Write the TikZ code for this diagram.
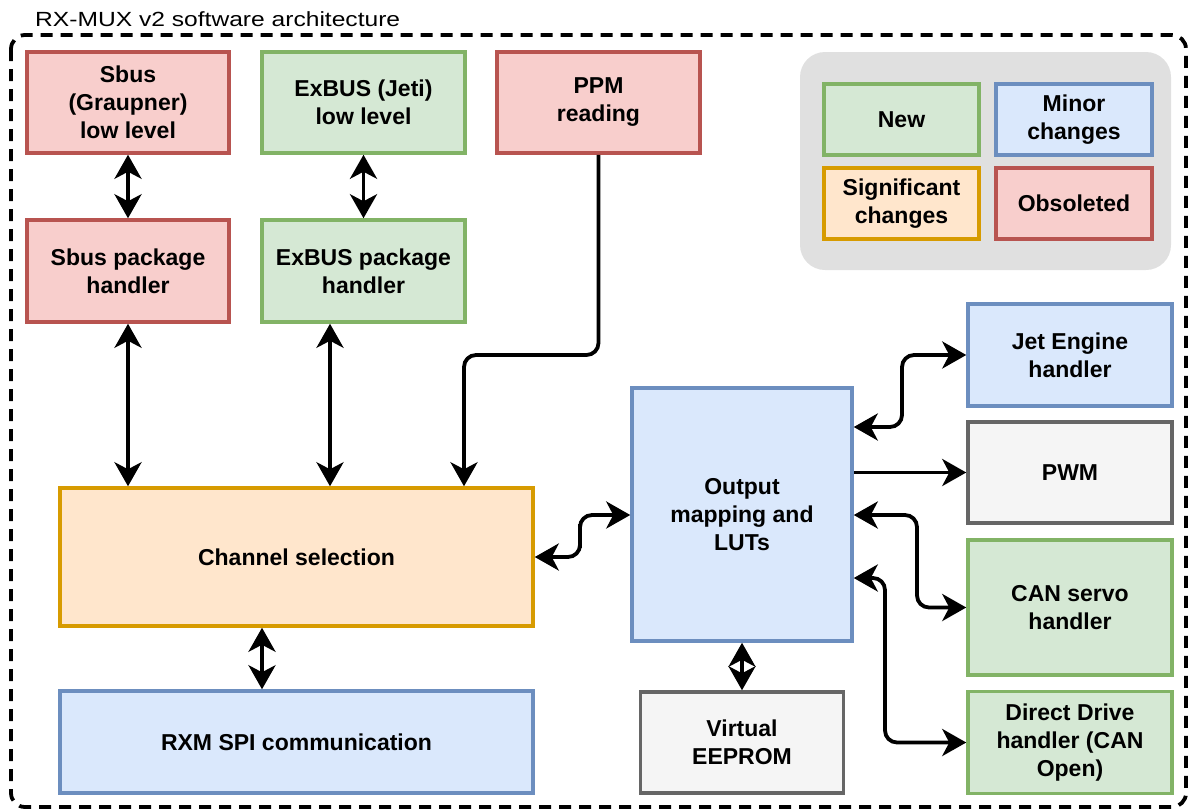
\documentclass[tikz,border=0pt]{standalone}
\usepackage{fontspec}
\setmainfont{Liberation Sans}
\newfontfamily\titlefont[FakeStretch=1.2]{Liberation Sans}
\usetikzlibrary{arrows.meta}

\definecolor{redF}{HTML}{F8CECC}\definecolor{redD}{HTML}{B85450}
\definecolor{grnF}{HTML}{D5E8D4}\definecolor{grnD}{HTML}{82B366}
\definecolor{bluF}{HTML}{DAE8FC}\definecolor{bluD}{HTML}{6C8EBF}
\definecolor{orgF}{HTML}{FFE6CC}\definecolor{orgD}{HTML}{D79B00}
\definecolor{gryF}{HTML}{F5F5F5}\definecolor{gryD}{HTML}{666666}
\definecolor{legendbg}{HTML}{E0E0E0}

\tikzset{
  box/.style={draw, line width=3.5pt, inner sep=0pt, align=center,
    font=\bfseries\fontsize{23}{28}\selectfont, text=black},
  sz/.style 2 args={minimum width=#1pt, minimum height=#2pt},
  redbox/.style={box, fill=redF, draw=redD},
  grnbox/.style={box, fill=grnF, draw=grnD},
  blubox/.style={box, fill=bluF, draw=bluD},
  orgbox/.style={box, fill=orgF, draw=orgD},
  grybox/.style={box, fill=gryF, draw=gryD},
  tip/.tip={Stealth[length=24pt, width=27pt, inset=7pt]},
  link/.style={line width=3.8pt, -tip, rounded corners=12pt},
  dlink/.style={line width=3.8pt, tip-tip, rounded corners=12pt},
  frame/.style={line width=3.8pt, dash pattern=on 12pt off 8pt, rounded corners=14pt},
}

\begin{document}
\begin{tikzpicture}[x=1pt, y=-1pt]
\useasboundingbox (0,0) rectangle (1190,809);

% outer dashed frame and its title
\draw[frame] (11,35) rectangle (1186,807);
\node[anchor=base west, inner sep=0pt, font=\titlefont\fontsize{20.5}{24}\selectfont]
  (title) at (35,26) {RX-MUX v2 software architecture};

% colour legend
\node[fill=legendbg, rounded corners=25pt, minimum width=371pt, minimum height=218pt,
  inner sep=0pt] (legend) at (985.5,161) {};
\node[grnbox, sz={155}{71}] (lnew) at (901.5,119.5) {New};
\node[blubox, sz={156}{71}] (lminor) at (1074,119.5) {Minor\\changes};
\node[orgbox, sz={155}{71}] (lsig) at (901.5,203.5) {Significant\\changes};
\node[redbox, sz={156}{71}] (lobs) at (1074,203.5) {Obsoleted};

% input side
\node[redbox, sz={202}{101}] (sbuslow) at (128,102.5) {Sbus\\(Graupner)\\low level};
\node[grnbox, sz={203}{101}] (exbuslow) at (363.5,102.5) {ExBUS (Jeti)\\low level};
\node[redbox, sz={203}{101}] (ppm) at (598.5,102.5) {PPM\\reading};
\node[redbox, sz={202}{102}] (sbuspkg) at (128,271) {Sbus package\\handler};
\node[grnbox, sz={203}{102}] (exbuspkg) at (363.5,271) {ExBUS package\\handler};

% core
\node[orgbox, sz={473}{138}] (chan) at (296.5,557) {Channel selection};
\node[blubox, sz={473}{102}] (rxm) at (296.5,742) {RXM SPI communication};
\node[blubox, sz={220}{253}] (out) at (742,514.5) {Output\\mapping and\\LUTs};
\node[grybox, sz={203}{101}] (eeprom) at (742,742.5) {Virtual\\EEPROM};

% output side
\node[blubox, sz={204}{102}] (jet) at (1070,355) {Jet Engine\\handler};
\node[grybox, sz={204}{101}] (pwm) at (1070,472.5) {PWM};
\node[grnbox, sz={204}{135}] (can) at (1070,607.5) {CAN servo\\handler};
\node[grnbox, sz={204}{102}] (dd) at (1070,742.5) {Direct Drive\\handler (CAN\\Open)};

% connectors
\draw[dlink] (sbuslow.south) -- (sbuspkg.north);
\draw[dlink] (exbuslow.south) -- (exbuspkg.north);
\draw[dlink] (sbuspkg.south) -- (sbuspkg.south |- chan.north);
\draw[dlink] (exbuspkg.south -| 330,0) -- (330,0 |- chan.north);
\draw[link] (ppm.south) |- (530,355) -| (464,420) -- (464,0 |- chan.north);
\draw[dlink] (chan.east) -| (580,536) |- (out.west |- 0,515);
\draw[dlink] (chan.south -| 262,0) -- (262,0 |- rxm.north);
\draw[dlink] (out.south) -- (out.south |- eeprom.north);
\draw[dlink] (out.east |- 0,427) -| (902,390) |- (jet.west);
\draw[link] (out.east |- pwm.west) -- (pwm.west);
\draw[dlink] (out.east |- 0,515) -| (917,560) |- (can.west);
\draw[dlink] (out.east |- 0,578) -| (885,660) |- (dd.west);
\end{tikzpicture}
\end{document}
